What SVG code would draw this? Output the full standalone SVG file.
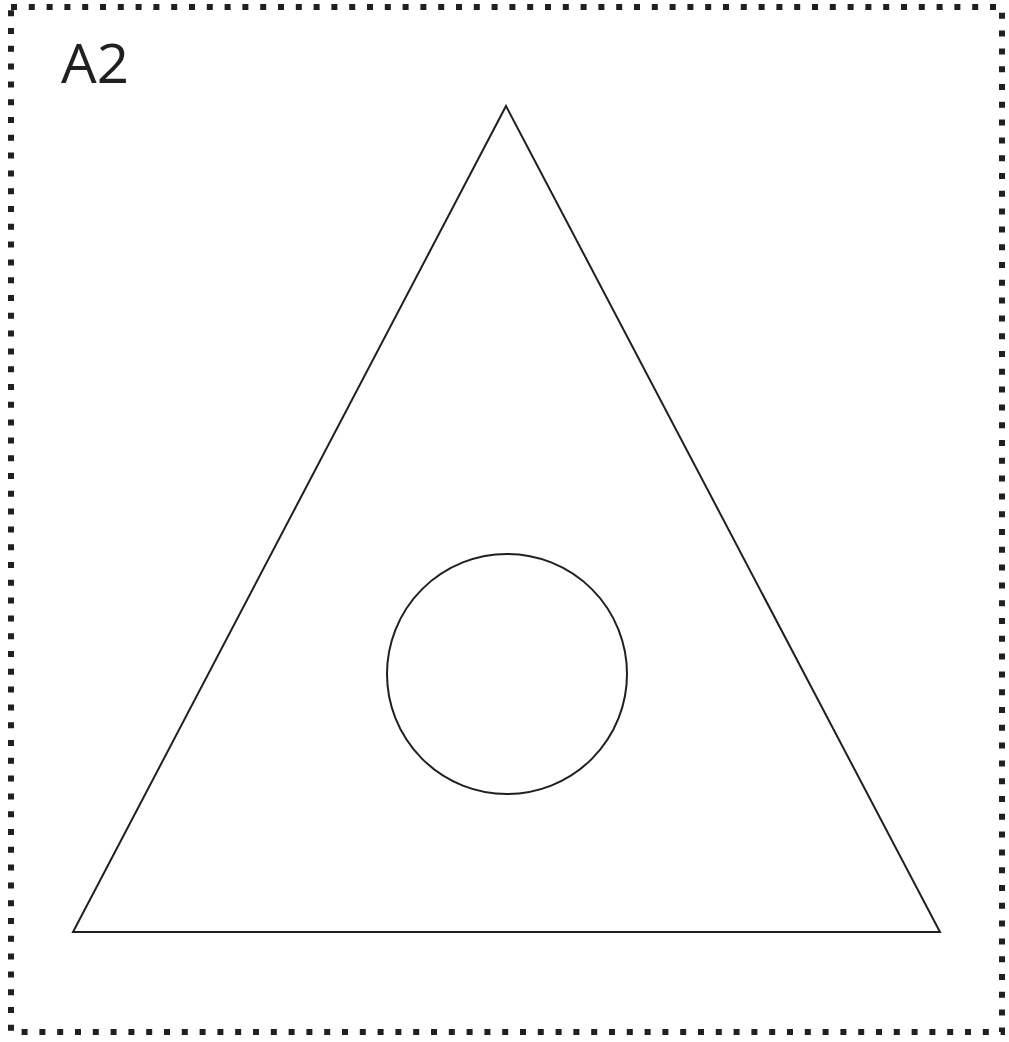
<svg xmlns="http://www.w3.org/2000/svg" width="1009" height="1042" viewBox="0 0 1009 1042">
<style>
.frame{fill:none;stroke:#231f20;stroke-width:6;stroke-dasharray:6 11.8}
.shape{fill:none;stroke:#231f20;stroke-width:2}
.label{font-family:"Open Sans","Liberation Sans",sans-serif;font-size:55px;fill:#231f20}
</style>
<rect width="1009" height="1042" fill="#fff"/>
<rect class="frame" x="11" y="7" width="991" height="1025"/>
<text class="label" x="61" y="83" textLength="68" lengthAdjust="spacingAndGlyphs">A2</text>
<g id="triangle"><polygon class="shape" points="506,106 940,932 73,932"/></g>
<g id="circle"><circle class="shape" cx="507" cy="674" r="120"/></g>
<g id="connectors"/>
</svg>
